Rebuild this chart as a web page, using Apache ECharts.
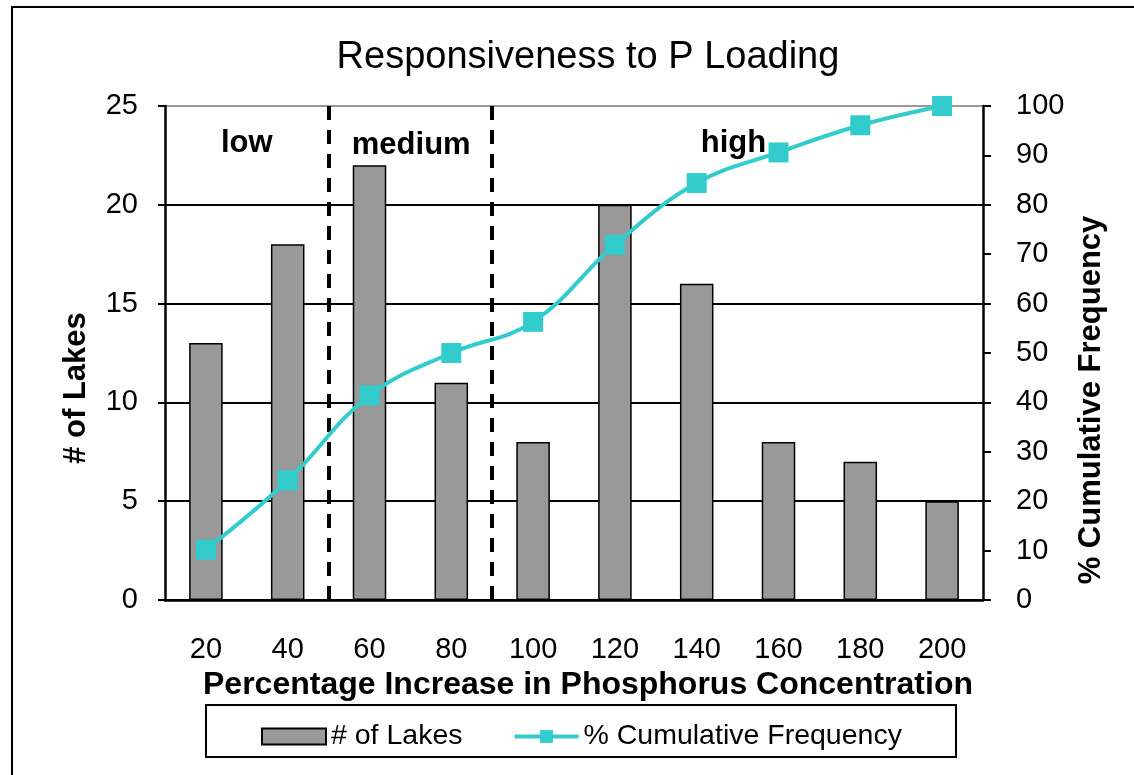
<!DOCTYPE html>
<html>
<head>
<meta charset="utf-8">
<script src="https://cdn.jsdelivr.net/npm/echarts@6/dist/echarts.min.js"></script>
<style>html,body{margin:0;padding:0;background:#fff;}#c{width:1134px;height:775px;}</style>
</head>
<body>
<div id="c"></div>
<script>
const categories = ['20','40','60','80','100','120','140','160','180','200'];
const lakes = [13, 18, 22, 11, 8, 20, 16, 8, 7, 5];
const cumulative = [10.2, 24.2, 41.4, 50.0, 56.3, 71.9, 84.4, 90.6, 96.1, 100];
const leftTicks = [0, 5, 10, 15, 20, 25];
const rightTicks = [0, 10, 20, 30, 40, 50, 60, 70, 80, 90, 100];
const zoneNames = ['low', 'medium', 'high'];
const zoneBounds = [50, 90];

const F = 'Liberation Sans, Arial, sans-serif';
const chart = echarts.init(document.getElementById('c'));
chart.setOption({
  animation: false,
  backgroundColor: '#fff',
  title: {
    text: 'Responsiveness to P Loading',
    left: 583, top: 34, textAlign: 'center',
    textStyle: { fontFamily: F, fontSize: 38, fontWeight: 'normal', color: '#000' }
  },
  grid: { left: 165, right: 151, top: 106, bottom: 175 },
  legend: {
    left: 256, top: 717, itemWidth: 64, itemHeight: 16, itemGap: 50,
    textStyle: { fontFamily: F, fontSize: 28.5, color: '#000' },
    data: [
      { name: '# of Lakes', icon: 'rect' },
      { name: '% Cumulative Frequency', lineStyle: { width: 4 } }
    ]
  },
  xAxis: [{
    type: 'category', data: categories,
    axisLine: { lineStyle: { color: '#000', width: 2.5 } },
    axisTick: { length: 7, lineStyle: { color: '#000', width: 2 } },
    axisLabel: { fontFamily: F, fontSize: 29, color: '#000', margin: 35 },
    name: 'Percentage Increase in Phosphorus Concentration',
    nameLocation: 'middle', nameGap: 67,
    nameTextStyle: { fontFamily: F, fontSize: 32, fontWeight: 'bold', color: '#000', padding: [0, 0, 0, 28] }
  }, {
    type: 'value', min: 10, max: 210, show: false
  }],
  yAxis: [{
    type: 'value', min: 0, max: 25, interval: 5,
    axisLine: { show: true, lineStyle: { color: '#000', width: 2.5 } },
    axisTick: { show: true, length: 7, lineStyle: { color: '#000', width: 2 } },
    axisLabel: { fontFamily: F, fontSize: 29, color: '#000', margin: 27 },
    splitLine: { show: true, lineStyle: { color: ['#000','#000','#000','#000','#000','#999'], width: 2 } }
  }, {
    type: 'value', min: 0, max: 100, interval: 10,
    axisLine: { show: true, lineStyle: { color: '#000', width: 2.5 } },
    axisTick: { show: true, length: 8, lineStyle: { color: '#000', width: 2 } },
    axisLabel: { fontFamily: F, fontSize: 29, color: '#000', margin: 33 },
    splitLine: { show: false }
  }],
  graphic: [
    { type: 'rect', shape: { x: 12, y: 7, width: 1140, height: 800 }, style: { fill: 'none', stroke: '#000', lineWidth: 2 }, silent: true, z: -1 },
    { type: 'rect', shape: { x: 206, y: 705, width: 750, height: 52 }, style: { fill: 'none', stroke: '#000', lineWidth: 2 }, silent: true },
    { type: 'text', x: 76, y: 388, rotation: Math.PI / 2, style: { text: '# of Lakes', fontFamily: F, fontSize: 31, fontWeight: 'bold', fill: '#000', align: 'center', verticalAlign: 'middle' } },
    { type: 'text', x: 1091, y: 400, rotation: Math.PI / 2, style: { text: '% Cumulative Frequency', fontFamily: F, fontSize: 31, fontWeight: 'bold', fill: '#000', align: 'center', verticalAlign: 'middle' } }
  ],
  series: [{
    name: '# of Lakes', type: 'bar', data: lakes, barWidth: '41%',
    itemStyle: { color: '#999999', borderColor: '#000', borderWidth: 1.5 },
    z: 2
  }, {
    name: '% Cumulative Frequency', type: 'line', yAxisIndex: 1, data: cumulative,
    smooth: 0.4, symbol: 'rect', symbolSize: 20,
    lineStyle: { color: '#33CCCC', width: 4 },
    itemStyle: { color: '#33CCCC' },
    z: 5
  }, {
    name: 'zones', type: 'scatter', xAxisIndex: 1, yAxisIndex: 0,
    symbolSize: 0, itemStyle: { opacity: 1 },
    data: [[30, 23.1, zoneNames[0]], [70.2, 23.0, zoneNames[1]], [149, 23.1, zoneNames[2]]],
    label: { show: true, position: 'inside', formatter: p => p.data[2], fontFamily: F, fontSize: 31, fontWeight: 'bold', color: '#000', opacity: 1 },
    markLine: {
      silent: true, symbol: 'none', label: { show: false },
      lineStyle: { color: '#000', width: 4, type: [14, 10] },
      data: zoneBounds.map(v => ({ xAxis: v }))
    },
    z: 4
  }]
});
</script>
</body>
</html>
